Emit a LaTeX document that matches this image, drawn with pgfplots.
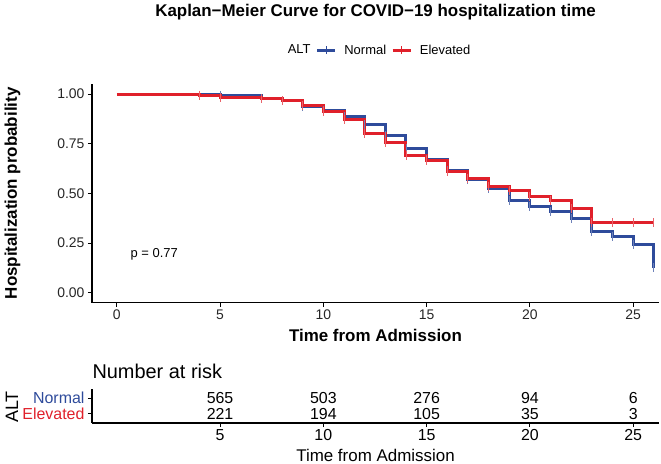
\documentclass[border=0pt]{standalone}
\usepackage{pgfplots}
\pgfplotsset{compat=1.18}
\usepackage{pgfplotstable}
\usepackage{fontspec}
\setmainfont{Liberation Sans}
\definecolor{cblue}{RGB}{46,75,155}
\definecolor{cred}{RGB}{224,32,42}

\pgfplotstableread{
t s
0 1.000
4 0.998
5 0.993
7 0.978
8 0.967
9 0.935
10 0.916
11 0.885
12 0.848
13 0.789
14 0.727
15 0.670
16 0.613
17 0.570
18 0.523
19 0.466
20 0.433
21 0.408
22 0.374
23 0.307
24 0.285
25 0.240
26 0.125
}\normaltab

\pgfplotstableread{
t s
0 1.000
4 0.995
5 0.981
7 0.976
8 0.965
9 0.943
10 0.910
11 0.873
12 0.801
13 0.755
14 0.693
15 0.665
16 0.610
17 0.577
18 0.537
19 0.512
20 0.483
21 0.463
22 0.425
23 0.352
24 0.352
25 0.352
26 0.352
}\elevtab

\begin{document}
\begin{tikzpicture}
\path[use as bounding box] (0bp,0bp) rectangle (661bp,-464bp);
\node[font=\fontsize{17}{19}\selectfont\bfseries] at (375.5bp,-12bp) {Kaplan−Meier Curve for COVID−19 hospitalization time};
\begin{axis}[
  at={(92bp,-302.6bp)}, anchor=south west, scale only axis,
  width=567bp, height=218.5bp,
  xmin=-1.2, xmax=26.25, ymin=-0.05, ymax=1.05,
  axis lines=left, axis line style={-, black, line width=1.2bp},
  xtick={0,5,10,15,20,25}, ytick={0,0.25,0.5,0.75,1},
  yticklabel style={/pgf/number format/.cd, fixed, fixed zerofill, precision=2},
  /pgf/number format/assume math mode=true,
  tick style={black, line width=1bp}, tick align=outside, major tick length=4bp,
  ticklabel style={font=\fontsize{14}{16}\selectfont, text=black!85},
  xlabel={Time from Admission}, ylabel={Hospitalization probability},
  xlabel style={at={(rel axis cs:0.5,0)}, yshift=-32.5bp, anchor=center, font=\fontsize{17}{19}\selectfont\bfseries},
  ylabel style={at={(rel axis cs:0,0.5)}, anchor=center, rotate=0, yshift=79.5bp, font=\fontsize{17}{19}\selectfont\bfseries},
  legend style={at={(rel axis cs:0.501,1.155)}, anchor=center, draw=none, fill=none,
    font=\fontsize{13}{15}\selectfont, legend columns=-1,
    /tikz/every even column/.append style={column sep=3bp},
    /tikz/every odd column/.append style={column sep=6bp}},
  legend image code/.code={\draw[line width=2.8bp] (0bp,0bp) -- (18bp,0bp); \draw[line width=1bp] (9bp,-4bp) -- (9bp,4bp);},
]
\addlegendimage{empty legend}
\addlegendentry{ALT}
\addlegendimage{cblue}
\addlegendentry{Normal}
\addlegendimage{cred}
\addlegendentry{Elevated}
\addplot[cblue, line width=3bp, const plot, forget plot] table[x=t,y=s] {\normaltab};
\addplot[cblue!70, only marks, mark=|, mark size=4.5bp, line width=0.9bp, restrict x to domain=4.5:27, forget plot] table[x=t,y=s] {\normaltab};
\addplot[cred, line width=3bp, const plot, forget plot] table[x=t,y=s] {\elevtab};
\addplot[cred!70, only marks, mark=|, mark size=4.5bp, line width=0.9bp, restrict x to domain=3.5:27, forget plot] table[x=t,y=s] {\elevtab};
\node[anchor=west, font=\fontsize{13}{15}\selectfont] at (axis cs:0.5,0.195) {p = 0.77};
\end{axis}

\node[anchor=west, font=\fontsize{20}{22}\selectfont] at (89bp,-371bp) {Number at risk};
\node[rotate=90, font=\fontsize{18}{20}\selectfont] at (12bp,-407bp) {ALT};

\begin{axis}[
  at={(92bp,-423bp)}, anchor=south west, scale only axis,
  width=567bp, height=34bp,
  xmin=-1.2, xmax=26.25, ymin=0.4, ymax=2.6,
  axis lines=left, axis line style={-, black, line width=1.2bp},
  xtick={5,10,15,20,25}, ytick={1,2},
  yticklabels={\textcolor{cred}{Elevated},\textcolor{cblue}{Normal}},
  /pgf/number format/assume math mode=true,
  tick style={black, line width=1bp}, tick align=outside, major tick length=4bp,
  ticklabel style={font=\fontsize{16}{18}\selectfont},
  xticklabel style={yshift=1bp},
  xlabel={Time from Admission},
  xlabel style={at={(rel axis cs:0.5,0)}, yshift=-32bp, anchor=center, font=\fontsize{17}{19}\selectfont},
]
\addplot[draw=none, nodes near coords, point meta=explicit symbolic,
  every node near coord/.append style={anchor=center, font=\fontsize{16}{18}\selectfont, text=black}]
  coordinates {(5,2) [565] (10,2) [503] (15,2) [276] (20,2) [94] (25,2) [6]
               (5,1) [221] (10,1) [194] (15,1) [105] (20,1) [35] (25,1) [3]};
\end{axis}
\end{tikzpicture}
\end{document}
